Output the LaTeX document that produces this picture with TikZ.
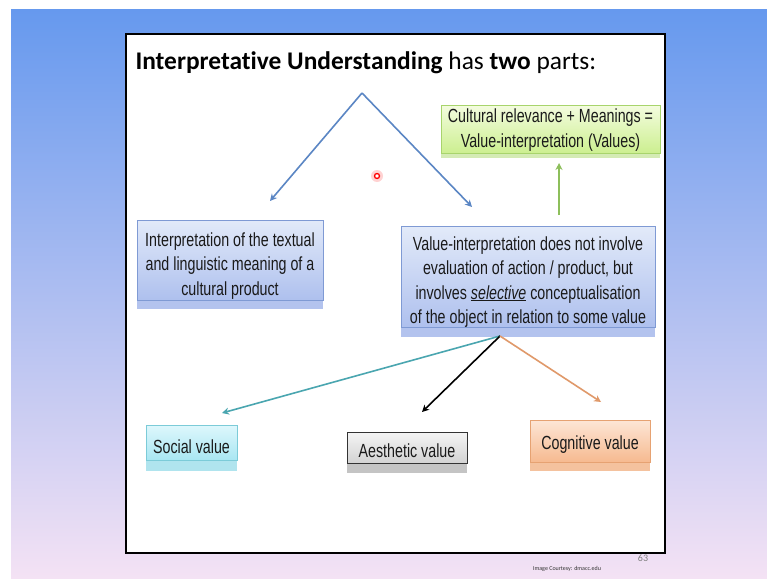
\documentclass[tikz,border=0pt]{standalone}
\usepackage{fontspec}
\setmainfont{Liberation Sans}
\newfontfamily\titlefont[RawFeature=-liga]{Carlito}
\newfontfamily\narrowfont[FakeStretch=0.75]{Liberation Sans}
\usetikzlibrary{arrows.meta,shadows}
\definecolor{bgtop}{HTML}{6699EE}
\definecolor{bgmid}{HTML}{ABC4EA}
\definecolor{bgbot}{HTML}{F4E2F4}
\definecolor{txt}{HTML}{1A1A1A}
\definecolor{bluetop}{HTML}{E2EAF9}
\definecolor{bluebot}{HTML}{AEC0EE}
\definecolor{bluebord}{HTML}{7F9AD4}
\definecolor{blueshad}{HTML}{B3C3EE}
\definecolor{greentop}{HTML}{F4FCDF}
\definecolor{greenbot}{HTML}{CCEF90}
\definecolor{greenbord}{HTML}{A8D46C}
\definecolor{greenshad}{HTML}{D4EBB4}
\definecolor{cyantop}{HTML}{DDF7FC}
\definecolor{cyanbot}{HTML}{A8E6F2}
\definecolor{cyanbord}{HTML}{7CCBD8}
\definecolor{cyanshad}{HTML}{B0E4EE}
\definecolor{graytop}{HTML}{F4F4F4}
\definecolor{graybot}{HTML}{D2D2D2}
\definecolor{grayshad}{HTML}{C4C4C4}
\definecolor{orgtop}{HTML}{FDE6D6}
\definecolor{orgbot}{HTML}{F6BA90}
\definecolor{orgbord}{HTML}{E6A272}
\definecolor{orgshad}{HTML}{F4C29E}
\definecolor{arrblue}{HTML}{5B86C4}
\definecolor{arrgreen}{HTML}{8DBF5B}
\definecolor{arrteal}{HTML}{4AA6B0}
\definecolor{arrorange}{HTML}{E0996A}
\begin{document}
\begin{tikzpicture}[x=1pt,y=-1pt,
  box/.style={draw, line width=0.8pt, inner sep=0pt},
  boxtext/.style={align=center, inner sep=0pt, text=txt,
    font=\narrowfont\fontsize{19}{24.3}\selectfont},
  bluebox/.style={box, draw=bluebord, top color=bluetop, bottom color=bluebot,
    drop shadow={shadow xshift=0pt, shadow yshift=-9pt, fill=blueshad, opacity=1}},
  greenbox/.style={box, draw=greenbord, top color=greentop, bottom color=greenbot,
    drop shadow={shadow xshift=0pt, shadow yshift=-5pt, fill=greenshad, opacity=1}},
  cyanbox/.style={box, draw=cyanbord, top color=cyantop, bottom color=cyanbot,
    drop shadow={shadow xshift=0pt, shadow yshift=-10pt, fill=cyanshad, opacity=1}},
  graybox/.style={box, draw=black!80, top color=graytop, bottom color=graybot,
    drop shadow={shadow xshift=0pt, shadow yshift=-9pt, fill=grayshad, opacity=1}},
  orgbox/.style={box, draw=orgbord, top color=orgtop, bottom color=orgbot,
    drop shadow={shadow xshift=0pt, shadow yshift=-9pt, fill=orgshad, opacity=1}},
  arr/.style={line width=1.6pt, -{Stealth[length=7pt,width=7pt]}}
]
\useasboundingbox (0,0) rectangle (767,578);
\fill[white] (0,0) rectangle (767,578);
\shade[top color=bgtop, middle color=bgmid, bottom color=bgbot] (11,10) rectangle (767,578);
\draw[line width=1.5pt, fill=white] (126,34) rectangle (665,553);

\node[anchor=base west, text=black, font=\titlefont\fontsize{25.4}{30}\selectfont] (title) at (132,70)
  {\textbf{Interpretative Understanding} has \textbf{two} parts:};

% boxes
\node[greenbox, minimum width=219pt, minimum height=48pt] (green) at (550.5,129) {};
\node[bluebox, minimum width=186pt, minimum height=80pt] (left) at (230,260) {};
\node[bluebox, minimum width=254pt, minimum height=101pt] (right) at (528,277) {};
\node[cyanbox, minimum width=91pt, minimum height=35pt] (social) at (191.5,443) {};
\node[graybox, minimum width=120pt, minimum height=31pt] (aes) at (407,448) {};
\node[orgbox, minimum width=120pt, minimum height=42pt] (cog) at (590,441) {};

% texts
\node[boxtext] (greent) at (550.5,130)
  {Cultural relevance + Meanings =\\Value-interpretation (Values)};
\node[boxtext] (leftt) at (230,266)
  {Interpretation of the textual\\and linguistic meaning of a\\cultural product};
\node[boxtext] (rightt) at (528,282)
  {Value-interpretation does not involve\\evaluation of action / product, but\\involves \underline{\textit{selective}} conceptualisation\\of the object in relation to some value};
\node[boxtext] (socialt) at (191.5,447) {Social value};
\node[boxtext] (aest) at (407,451) {Aesthetic value};
\node[boxtext] (cogt) at (590,445) {Cognitive value};

% connectors
\coordinate (apex) at (362,93);
\coordinate (lt) at (270,201);
\coordinate (rt) at (472,207);
\coordinate (gs) at (559,215);
\coordinate (gt) at (559,163);
\coordinate (src) at (500,336);
\coordinate (st) at (222,413);
\coordinate (at) at (422,412);
\coordinate (ct) at (601,402);

\draw[arr, arrblue] (apex) -- (lt);
\draw[arr, arrblue] (apex) -- (rt);
\draw[arr, arrgreen] (gs) -- (gt);
\draw[arr, arrteal] (src) -- (st);
\draw[arr, black] (src) -- (at);
\draw[arr, arrorange] (src) -- (ct);

\fill[red!25, opacity=0.7] (377,176) circle (6pt);
\node[circle, draw=red, line width=1.3pt, fill=white, inner sep=0pt, minimum size=5pt] (dot) at (377,176) {};

\node[text=gray, font=\titlefont\fontsize{10}{11}\selectfont] (pg) at (643,558) {63};
\node[text=black!80, font=\titlefont\fontsize{6}{7}\selectfont] (credit) at (567,569) {Image Courtesy: dmacc.edu};
\end{tikzpicture}
\end{document}
